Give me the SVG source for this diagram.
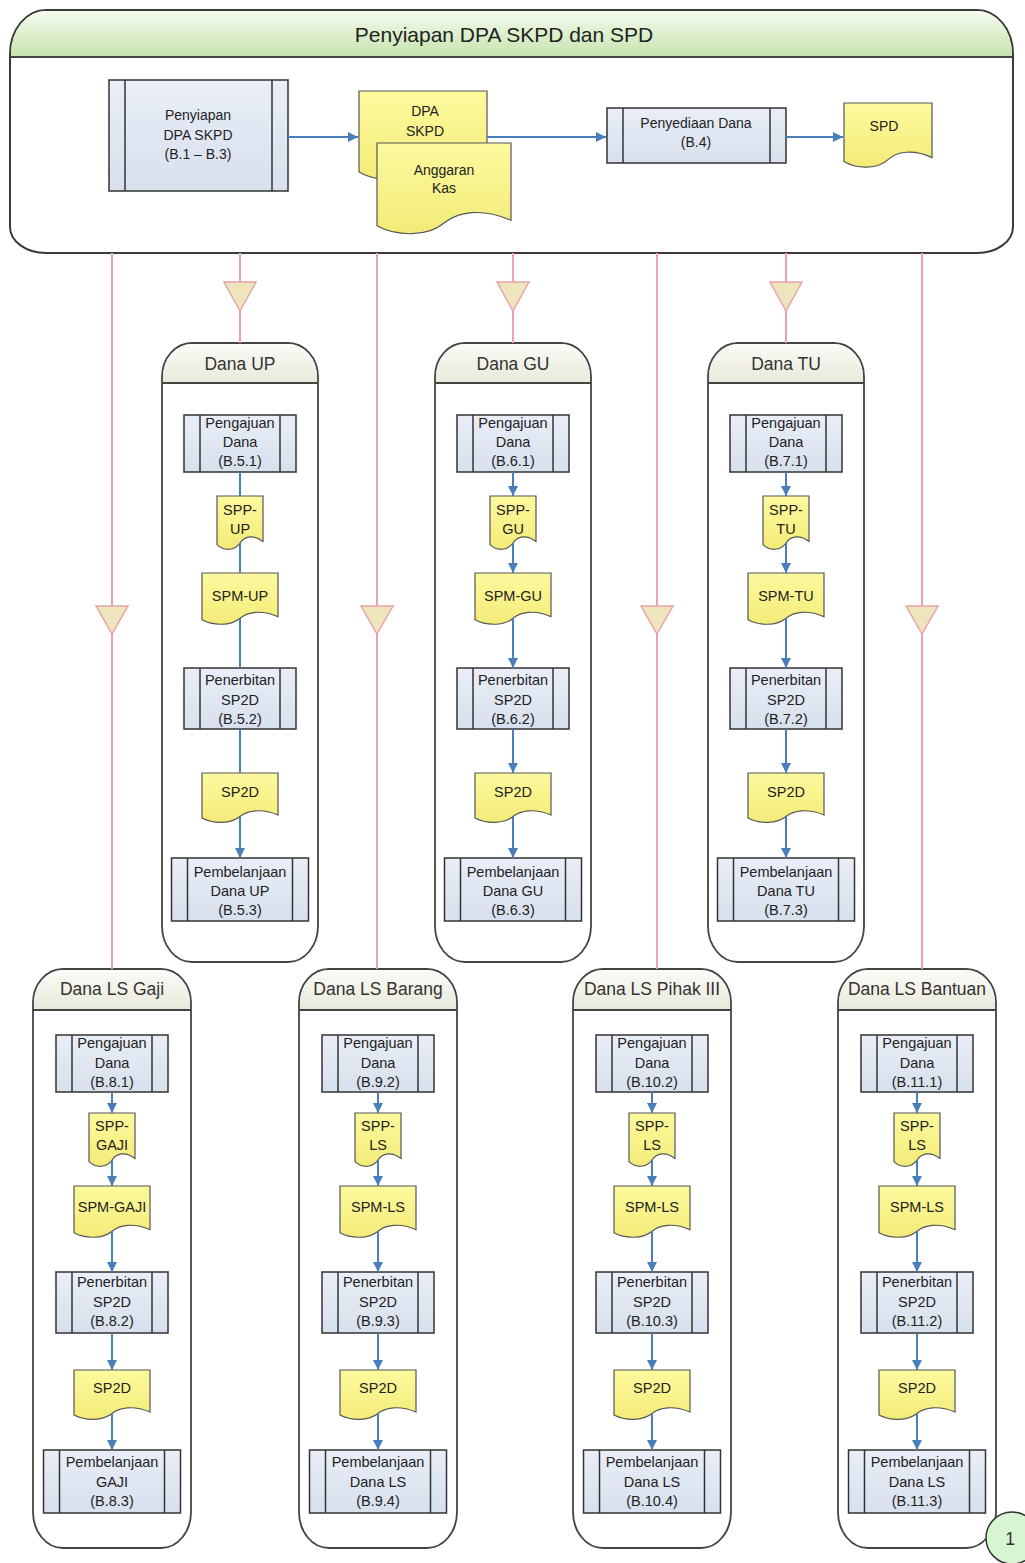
<svg xmlns="http://www.w3.org/2000/svg" xmlns:xlink="http://www.w3.org/1999/xlink" width="1025" height="1563" viewBox="0 0 1025 1563">
<style>
.cont{fill:#ffffff;stroke:#3a3a3a;stroke-width:2}
.lane{fill:#ffffff;stroke:#444;stroke-width:1.8}
.hline{stroke:#444;stroke-width:1.8}
.proc{fill:url(#gProc);stroke:#333;stroke-width:1.5}
.pin{stroke:#333;stroke-width:1.5}
.doc{fill:url(#gDoc);stroke:#555;stroke-width:1.2}
.t{font-family:"Liberation Sans",Arial,sans-serif;font-size:14.5px;fill:#222;text-anchor:middle}
.tt{font-family:"Liberation Sans",Arial,sans-serif;font-size:14px;fill:#222;text-anchor:middle}
.lt{font-family:"Liberation Sans",Arial,sans-serif;font-size:17.5px;fill:#333;text-anchor:middle}
.title{font-family:"Liberation Sans",Arial,sans-serif;font-size:21px;fill:#222;text-anchor:middle}
.flow{stroke:#4a7ebb;stroke-width:2;fill:none;marker-end:url(#ah)}
.pink{stroke:#e8a3ab;stroke-width:2;fill:none}
.tri{fill:#efe5bd;stroke:#e8a3ab;stroke-width:1.5}
</style>
<defs>
<linearGradient id="gHead" x1="0" y1="0" x2="0" y2="1"><stop offset="0" stop-color="#f5fbef"/><stop offset="1" stop-color="#c6e3ad"/></linearGradient>
<linearGradient id="gLane" x1="0" y1="0" x2="0" y2="1"><stop offset="0" stop-color="#fbfbf7"/><stop offset="1" stop-color="#e9e8db"/></linearGradient>
<linearGradient id="gDoc" x1="0" y1="0" x2="0" y2="1"><stop offset="0" stop-color="#fdfa9e"/><stop offset="1" stop-color="#f3eb78"/></linearGradient>
<linearGradient id="gProc" x1="0" y1="0" x2="0" y2="1"><stop offset="0" stop-color="#e9eef7"/><stop offset="1" stop-color="#d8e0ed"/></linearGradient>
<marker id="ah" markerUnits="userSpaceOnUse" markerWidth="10" markerHeight="10" viewBox="0 0 10 10" refX="10" refY="5" orient="auto"><path d="M0,0 L10,5 L0,10 Z" fill="#4a7ebb"/></marker>
<g id="pA"><rect class="proc" width="112" height="57"/><line class="pin" x1="16" y1="0" x2="16" y2="57"/><line class="pin" x1="96" y1="0" x2="96" y2="57"/></g>
<g id="pB"><rect class="proc" width="112" height="61"/><line class="pin" x1="16" y1="0" x2="16" y2="61"/><line class="pin" x1="96" y1="0" x2="96" y2="61"/></g>
<g id="pC"><rect class="proc" width="137" height="63"/><line class="pin" x1="16" y1="0" x2="16" y2="63"/><line class="pin" x1="121" y1="0" x2="121" y2="63"/></g>
<path id="dSPP" class="doc" d="M0,0 H46 V45.4 C35.9,37.8 27.6,40.5 23,47 C17.5,55.1 6.9,55.1 0,48.6 Z"/>
<path id="dSPM" class="doc" d="M0,0 H76 V43.7 C59.3,36.4 45.6,39 38,45.2 C28.9,53 11.4,53 0,46.8 Z"/>
<path id="dSP2D" class="doc" d="M0,0 H76 V42 C59.3,35 45.6,37.5 38,43.5 C28.9,51 11.4,51 0,45 Z"/>
</defs>

<g id="container-top">
<path class="cont" d="M10,54 A36,44 0 0 1 46,10 H977 A36,44 0 0 1 1013,54 V227 A36,26 0 0 1 977,253 H46 A36,26 0 0 1 10,227 Z"/>
<path fill="url(#gHead)" d="M11,57 V54 A35,43 0 0 1 46,11 H977 A35,43 0 0 1 1012,54 V57 Z"/>
<line class="hline" x1="10" y1="57" x2="1013" y2="57"/>
<text class="title" x="504" y="42">Penyiapan DPA SKPD dan SPD</text>
</g>

<g id="node-penyiapan">
<rect class="proc" x="109" y="80" width="179" height="111"/>
<line class="pin" x1="125" y1="80" x2="125" y2="191"/><line class="pin" x1="272" y1="80" x2="272" y2="191"/>
<text class="tt" x="198" y="120">Penyiapan</text><text class="tt" x="198" y="140">DPA SKPD</text><text class="tt" x="198" y="159">(B.1 – B.3)</text>
</g>
<g id="node-dpa">
<path class="doc" d="M359,91 H487 V166.6 C458.8,154 435.8,158.5 423,169.3 C407.6,182.8 378.2,182.8 359,172 Z"/>
<text class="tt" x="425" y="116">DPA</text><text class="tt" x="425" y="136">SKPD</text>
</g>
<g id="node-anggaran">
<path class="doc" d="M377,143 H511 V220.3 C481.5,207.4 457.4,212 444,223 C427.9,236.8 397.1,236.8 377,225.8 Z"/>
<text class="tt" x="444" y="175">Anggaran</text><text class="tt" x="444" y="193">Kas</text>
</g>
<g id="node-penyediaan">
<rect class="proc" x="607" y="108" width="179" height="55"/>
<line class="pin" x1="623" y1="108" x2="623" y2="163"/><line class="pin" x1="770" y1="108" x2="770" y2="163"/>
<text class="tt" x="696" y="128">Penyediaan Dana</text><text class="tt" x="696" y="147">(B.4)</text>
</g>
<g id="node-spd">
<path class="doc" d="M844,103 H932 V157.6 C912.6,148.5 896.8,151.8 888,159.6 C877.4,169.3 857.2,169.3 844,161.5 Z"/>
<text class="tt" x="884" y="131">SPD</text>
</g>

<!-- Upper lanes -->
<g id="lane-up">
<path class="lane" d="M162,377 A30,34 0 0 1 192,343 H288 A30,34 0 0 1 318,377 V926 A30,36 0 0 1 288,962 H192 A30,36 0 0 1 162,926 Z"/>
<path fill="url(#gLane)" d="M163,383 V377 A29,33 0 0 1 192,344 H288 A29,33 0 0 1 317,377 V383 Z"/>
<line class="hline" x1="162" y1="383" x2="318" y2="383"/>
<text class="lt" x="240" y="370">Dana UP</text>
</g>
<g id="lane-gu">
<path class="lane" d="M435,377 A30,34 0 0 1 465,343 H561 A30,34 0 0 1 591,377 V926 A30,36 0 0 1 561,962 H465 A30,36 0 0 1 435,926 Z"/>
<path fill="url(#gLane)" d="M436,383 V377 A29,33 0 0 1 465,344 H561 A29,33 0 0 1 590,377 V383 Z"/>
<line class="hline" x1="435" y1="383" x2="591" y2="383"/>
<text class="lt" x="513" y="370">Dana GU</text>
</g>
<g id="lane-tu">
<path class="lane" d="M708,377 A30,34 0 0 1 738,343 H834 A30,34 0 0 1 864,377 V926 A30,36 0 0 1 834,962 H738 A30,36 0 0 1 708,926 Z"/>
<path fill="url(#gLane)" d="M709,383 V377 A29,33 0 0 1 738,344 H834 A29,33 0 0 1 863,377 V383 Z"/>
<line class="hline" x1="708" y1="383" x2="864" y2="383"/>
<text class="lt" x="786" y="370">Dana TU</text>
</g>

<!-- Lower lanes -->
<g id="lane-lsgaji">
<path class="lane" d="M33,1003 A30,34 0 0 1 63,969 H161 A30,34 0 0 1 191,1003 V1512 A30,36 0 0 1 161,1548 H63 A30,36 0 0 1 33,1512 Z"/>
<path fill="url(#gLane)" d="M34,1010 V1003 A29,33 0 0 1 63,970 H161 A29,33 0 0 1 190,1003 V1010 Z"/>
<line class="hline" x1="33" y1="1010" x2="191" y2="1010"/>
<text class="lt" x="112" y="995">Dana LS Gaji</text>
</g>
<g id="lane-lsbarang">
<path class="lane" d="M299,1003 A30,34 0 0 1 329,969 H427 A30,34 0 0 1 457,1003 V1512 A30,36 0 0 1 427,1548 H329 A30,36 0 0 1 299,1512 Z"/>
<path fill="url(#gLane)" d="M300,1010 V1003 A29,33 0 0 1 329,970 H427 A29,33 0 0 1 456,1003 V1010 Z"/>
<line class="hline" x1="299" y1="1010" x2="457" y2="1010"/>
<text class="lt" x="378" y="995">Dana LS Barang</text>
</g>
<g id="lane-lspihak">
<path class="lane" d="M573,1003 A30,34 0 0 1 603,969 H701 A30,34 0 0 1 731,1003 V1512 A30,36 0 0 1 701,1548 H603 A30,36 0 0 1 573,1512 Z"/>
<path fill="url(#gLane)" d="M574,1010 V1003 A29,33 0 0 1 603,970 H701 A29,33 0 0 1 730,1003 V1010 Z"/>
<line class="hline" x1="573" y1="1010" x2="731" y2="1010"/>
<text class="lt" x="652" y="995">Dana LS Pihak III</text>
</g>
<g id="lane-lsbantuan">
<path class="lane" d="M838,1003 A30,34 0 0 1 868,969 H966 A30,34 0 0 1 996,1003 V1512 A30,36 0 0 1 966,1548 H868 A30,36 0 0 1 838,1512 Z"/>
<path fill="url(#gLane)" d="M839,1010 V1003 A29,33 0 0 1 868,970 H966 A29,33 0 0 1 995,1003 V1010 Z"/>
<line class="hline" x1="838" y1="1010" x2="996" y2="1010"/>
<text class="lt" x="917" y="995">Dana LS Bantuan</text>
</g>

<!-- Dana UP nodes -->
<g id="up-pengajuan"><use xlink:href="#pA" x="184" y="415"/><text class="t" x="240" y="428">Pengajuan</text><text class="t" x="240" y="447">Dana</text><text class="t" x="240" y="466">(B.5.1)</text></g>
<g id="up-spp"><use xlink:href="#dSPP" x="217" y="496"/><text class="t" x="240" y="515">SPP-</text><text class="t" x="240" y="534">UP</text></g>
<g id="up-spm"><use xlink:href="#dSPM" x="202" y="573"/><text class="t" x="240" y="601">SPM-UP</text></g>
<g id="up-penerbitan"><use xlink:href="#pB" x="184" y="668"/><text class="t" x="240" y="685">Penerbitan</text><text class="t" x="240" y="705">SP2D</text><text class="t" x="240" y="724">(B.5.2)</text></g>
<g id="up-sp2d"><use xlink:href="#dSP2D" x="202" y="773"/><text class="t" x="240" y="797">SP2D</text></g>
<g id="up-pembelanjaan"><use xlink:href="#pC" x="171.5" y="858"/><text class="t" x="240" y="877">Pembelanjaan</text><text class="t" x="240" y="896">Dana UP</text><text class="t" x="240" y="915">(B.5.3)</text></g>

<!-- Dana GU nodes -->
<g id="gu-pengajuan"><use xlink:href="#pA" x="457" y="415"/><text class="t" x="513" y="428">Pengajuan</text><text class="t" x="513" y="447">Dana</text><text class="t" x="513" y="466">(B.6.1)</text></g>
<g id="gu-spp"><use xlink:href="#dSPP" x="490" y="496"/><text class="t" x="513" y="515">SPP-</text><text class="t" x="513" y="534">GU</text></g>
<g id="gu-spm"><use xlink:href="#dSPM" x="475" y="573"/><text class="t" x="513" y="601">SPM-GU</text></g>
<g id="gu-penerbitan"><use xlink:href="#pB" x="457" y="668"/><text class="t" x="513" y="685">Penerbitan</text><text class="t" x="513" y="705">SP2D</text><text class="t" x="513" y="724">(B.6.2)</text></g>
<g id="gu-sp2d"><use xlink:href="#dSP2D" x="475" y="773"/><text class="t" x="513" y="797">SP2D</text></g>
<g id="gu-pembelanjaan"><use xlink:href="#pC" x="444.5" y="858"/><text class="t" x="513" y="877">Pembelanjaan</text><text class="t" x="513" y="896">Dana GU</text><text class="t" x="513" y="915">(B.6.3)</text></g>

<!-- Dana TU nodes -->
<g id="tu-pengajuan"><use xlink:href="#pA" x="730" y="415"/><text class="t" x="786" y="428">Pengajuan</text><text class="t" x="786" y="447">Dana</text><text class="t" x="786" y="466">(B.7.1)</text></g>
<g id="tu-spp"><use xlink:href="#dSPP" x="763" y="496"/><text class="t" x="786" y="515">SPP-</text><text class="t" x="786" y="534">TU</text></g>
<g id="tu-spm"><use xlink:href="#dSPM" x="748" y="573"/><text class="t" x="786" y="601">SPM-TU</text></g>
<g id="tu-penerbitan"><use xlink:href="#pB" x="730" y="668"/><text class="t" x="786" y="685">Penerbitan</text><text class="t" x="786" y="705">SP2D</text><text class="t" x="786" y="724">(B.7.2)</text></g>
<g id="tu-sp2d"><use xlink:href="#dSP2D" x="748" y="773"/><text class="t" x="786" y="797">SP2D</text></g>
<g id="tu-pembelanjaan"><use xlink:href="#pC" x="717.5" y="858"/><text class="t" x="786" y="877">Pembelanjaan</text><text class="t" x="786" y="896">Dana TU</text><text class="t" x="786" y="915">(B.7.3)</text></g>

<!-- Dana LS Gaji nodes -->
<g id="gaji-pengajuan"><use xlink:href="#pA" x="56" y="1035"/><text class="t" x="112" y="1048">Pengajuan</text><text class="t" x="112" y="1068">Dana</text><text class="t" x="112" y="1087">(B.8.1)</text></g>
<g id="gaji-spp"><use xlink:href="#dSPP" x="89" y="1113"/><text class="t" x="112" y="1131">SPP-</text><text class="t" x="112" y="1150">GAJI</text></g>
<g id="gaji-spm"><use xlink:href="#dSPM" x="74" y="1186"/><text class="t" x="112" y="1212">SPM-GAJI</text></g>
<g id="gaji-penerbitan"><use xlink:href="#pB" x="56" y="1272"/><text class="t" x="112" y="1287">Penerbitan</text><text class="t" x="112" y="1307">SP2D</text><text class="t" x="112" y="1326">(B.8.2)</text></g>
<g id="gaji-sp2d"><use xlink:href="#dSP2D" x="74" y="1370"/><text class="t" x="112" y="1393">SP2D</text></g>
<g id="gaji-pembelanjaan"><use xlink:href="#pC" x="43.5" y="1450"/><text class="t" x="112" y="1467">Pembelanjaan</text><text class="t" x="112" y="1487">GAJI</text><text class="t" x="112" y="1506">(B.8.3)</text></g>

<!-- Dana LS Barang nodes -->
<g id="barang-pengajuan"><use xlink:href="#pA" x="322" y="1035"/><text class="t" x="378" y="1048">Pengajuan</text><text class="t" x="378" y="1068">Dana</text><text class="t" x="378" y="1087">(B.9.2)</text></g>
<g id="barang-spp"><use xlink:href="#dSPP" x="355" y="1113"/><text class="t" x="378" y="1131">SPP-</text><text class="t" x="378" y="1150">LS</text></g>
<g id="barang-spm"><use xlink:href="#dSPM" x="340" y="1186"/><text class="t" x="378" y="1212">SPM-LS</text></g>
<g id="barang-penerbitan"><use xlink:href="#pB" x="322" y="1272"/><text class="t" x="378" y="1287">Penerbitan</text><text class="t" x="378" y="1307">SP2D</text><text class="t" x="378" y="1326">(B.9.3)</text></g>
<g id="barang-sp2d"><use xlink:href="#dSP2D" x="340" y="1370"/><text class="t" x="378" y="1393">SP2D</text></g>
<g id="barang-pembelanjaan"><use xlink:href="#pC" x="309.5" y="1450"/><text class="t" x="378" y="1467">Pembelanjaan</text><text class="t" x="378" y="1487">Dana LS</text><text class="t" x="378" y="1506">(B.9.4)</text></g>

<!-- Dana LS Pihak III nodes -->
<g id="pihak-pengajuan"><use xlink:href="#pA" x="596" y="1035"/><text class="t" x="652" y="1048">Pengajuan</text><text class="t" x="652" y="1068">Dana</text><text class="t" x="652" y="1087">(B.10.2)</text></g>
<g id="pihak-spp"><use xlink:href="#dSPP" x="629" y="1113"/><text class="t" x="652" y="1131">SPP-</text><text class="t" x="652" y="1150">LS</text></g>
<g id="pihak-spm"><use xlink:href="#dSPM" x="614" y="1186"/><text class="t" x="652" y="1212">SPM-LS</text></g>
<g id="pihak-penerbitan"><use xlink:href="#pB" x="596" y="1272"/><text class="t" x="652" y="1287">Penerbitan</text><text class="t" x="652" y="1307">SP2D</text><text class="t" x="652" y="1326">(B.10.3)</text></g>
<g id="pihak-sp2d"><use xlink:href="#dSP2D" x="614" y="1370"/><text class="t" x="652" y="1393">SP2D</text></g>
<g id="pihak-pembelanjaan"><use xlink:href="#pC" x="583.5" y="1450"/><text class="t" x="652" y="1467">Pembelanjaan</text><text class="t" x="652" y="1487">Dana LS</text><text class="t" x="652" y="1506">(B.10.4)</text></g>

<!-- Dana LS Bantuan nodes -->
<g id="bantuan-pengajuan"><use xlink:href="#pA" x="861" y="1035"/><text class="t" x="917" y="1048">Pengajuan</text><text class="t" x="917" y="1068">Dana</text><text class="t" x="917" y="1087">(B.11.1)</text></g>
<g id="bantuan-spp"><use xlink:href="#dSPP" x="894" y="1113"/><text class="t" x="917" y="1131">SPP-</text><text class="t" x="917" y="1150">LS</text></g>
<g id="bantuan-spm"><use xlink:href="#dSPM" x="879" y="1186"/><text class="t" x="917" y="1212">SPM-LS</text></g>
<g id="bantuan-penerbitan"><use xlink:href="#pB" x="861" y="1272"/><text class="t" x="917" y="1287">Penerbitan</text><text class="t" x="917" y="1307">SP2D</text><text class="t" x="917" y="1326">(B.11.2)</text></g>
<g id="bantuan-sp2d"><use xlink:href="#dSP2D" x="879" y="1370"/><text class="t" x="917" y="1393">SP2D</text></g>
<g id="bantuan-pembelanjaan"><use xlink:href="#pC" x="848.5" y="1450"/><text class="t" x="917" y="1467">Pembelanjaan</text><text class="t" x="917" y="1487">Dana LS</text><text class="t" x="917" y="1506">(B.11.3)</text></g>

<g id="connector-1">
<circle cx="1012" cy="1538" r="26" fill="#d6f5d0" stroke="#333" stroke-width="1.5"/>
<text class="lt" x="1010" y="1545">1</text>
</g>

<g id="connectors">
<!-- pink lane links -->
<line class="pink" x1="240" y1="253" x2="240" y2="343"/>
<line class="pink" x1="513" y1="253" x2="513" y2="343"/>
<line class="pink" x1="786" y1="253" x2="786" y2="343"/>
<line class="pink" x1="112" y1="253" x2="112" y2="969"/>
<line class="pink" x1="377" y1="253" x2="377" y2="969"/>
<line class="pink" x1="657" y1="253" x2="657" y2="969"/>
<line class="pink" x1="922" y1="253" x2="922" y2="969"/>
<polygon class="tri" points="224,282 256,282 240,311"/>
<polygon class="tri" points="497,282 529,282 513,311"/>
<polygon class="tri" points="770,282 802,282 786,311"/>
<polygon class="tri" points="96,606 128,606 112,634"/>
<polygon class="tri" points="361,606 393,606 377,634"/>
<polygon class="tri" points="641,606 673,606 657,634"/>
<polygon class="tri" points="906,606 938,606 922,634"/>
<!-- top flows -->
<line class="flow" x1="288" y1="137" x2="358" y2="137"/>
<line class="flow" x1="487" y1="137" x2="606" y2="137"/>
<line class="flow" x1="786" y1="137" x2="843" y2="137"/>
<!-- upper lane flows -->
<path class="flow" d="M240,472 V496 M240,543 V573 M240,618 V668 M240,729 V773 M240,817 V858"/>
<path class="flow" d="M513,472 V496"/><path class="flow" d="M513,543 V573"/><path class="flow" d="M513,618 V668"/><path class="flow" d="M513,729 V773"/><path class="flow" d="M513,817 V858"/>
<path class="flow" d="M786,472 V496"/><path class="flow" d="M786,543 V573"/><path class="flow" d="M786,618 V668"/><path class="flow" d="M786,729 V773"/><path class="flow" d="M786,817 V858"/>
<!-- lower lane flows -->
<path class="flow" d="M112,1092 V1113"/><path class="flow" d="M112,1160 V1186"/><path class="flow" d="M112,1231 V1272"/><path class="flow" d="M112,1333 V1370"/><path class="flow" d="M112,1413 V1450"/>
<path class="flow" d="M378,1092 V1113"/><path class="flow" d="M378,1160 V1186"/><path class="flow" d="M378,1231 V1272"/><path class="flow" d="M378,1333 V1370"/><path class="flow" d="M378,1413 V1450"/>
<path class="flow" d="M652,1092 V1113"/><path class="flow" d="M652,1160 V1186"/><path class="flow" d="M652,1231 V1272"/><path class="flow" d="M652,1333 V1370"/><path class="flow" d="M652,1413 V1450"/>
<path class="flow" d="M917,1092 V1113"/><path class="flow" d="M917,1160 V1186"/><path class="flow" d="M917,1231 V1272"/><path class="flow" d="M917,1333 V1370"/><path class="flow" d="M917,1413 V1450"/>
</g>
</svg>
